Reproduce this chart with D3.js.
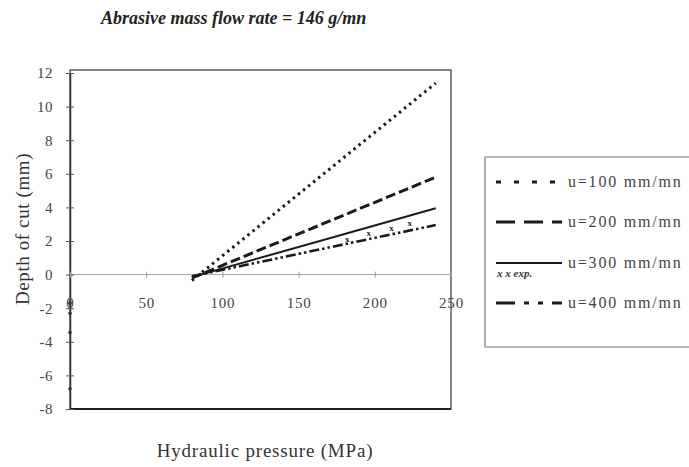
<!DOCTYPE html>
<html>
<head>
<meta charset="utf-8">
<script src="https://cdn.jsdelivr.net/npm/d3@7"></script>
<style>
  body { margin: 0; background: #fff; }
  text { font-family: "Liberation Serif", "Times New Roman", serif; }
</style>
</head>
<body>
<div id="chart"></div>
<script>
// chart data
let pressureEnds = [80, 240];
let seriesNames = ["u=100 mm/mn", "u=200 mm/mn", "u=300 mm/mn", "u=400 mm/mn"];
let depthU100 = [-0.35, 11.4];
let depthU200 = [-0.2, 5.8];
let depthU300 = [-0.15, 3.95];
let depthU400 = [-0.1, 2.95];
// experimental points (x marks)
let expPressure = [182, 196, 211, 223];
let expDepth = [2.1, 2.45, 2.8, 3.05];
// faint remains of the lines at P = 0
let startDepth = [-1.7, -2.3, -3.45, -6.8];
let xTicks = [0, 50, 100, 150, 200, 250];
let yTicks = [-8, -6, -4, -2, 0, 2, 4, 6, 8, 10, 12];

let svgWidth = 689;
let svgHeight = 467;

let margin = { top: 73, right: 238, bottom: 58, left: 70 };
let width = svgWidth - margin.left - margin.right;
let height = svgHeight - margin.top - margin.bottom;

let svg = d3.select("#chart")
  .append("svg")
  .attr("width", svgWidth)
  .attr("height", svgHeight);

let chartGroup = svg.append("g")
  .attr("transform", `translate(${margin.left}, ${margin.top})`);

let x = d3.scaleLinear().domain([0, 250]).range([0, 381]);
let y = d3.scaleLinear().domain([-8, 12]).range([height, 0]);

let ink = "#1a1a1a";
let serif = "'Liberation Serif', 'Times New Roman', serif";

// title
svg.append("text")
  .attr("x", 101)
  .attr("y", 24)
  .attr("font-family", serif)
  .attr("font-size", "18px")
  .attr("font-style", "italic")
  .attr("font-weight", "bold")
  .attr("fill", "#222")
  .text("Abrasive mass flow rate = 146 g/mn");

// plot frame
chartGroup.append("rect")
  .attr("x", 0)
  .attr("y", -3)
  .attr("width", x(250))
  .attr("height", height + 3)
  .attr("fill", "none")
  .attr("stroke", "#444")
  .attr("stroke-width", 1.3);

chartGroup.append("line")
  .attr("x1", 0).attr("x2", x(250))
  .attr("y1", height).attr("y2", height)
  .attr("stroke", "#222")
  .attr("stroke-width", 2);

// zero line
chartGroup.append("line")
  .attr("x1", 0).attr("x2", x(250))
  .attr("y1", y(0)).attr("y2", y(0))
  .attr("stroke", "#a9a4a8")
  .attr("stroke-width", 1);

// y axis with cross ticks, plain hyphen minus like the scan
let leftAxis = d3.axisLeft(y)
  .tickValues(yTicks)
  .tickFormat(d => String(d))
  .tickSize(4)
  .tickSizeOuter(0)
  .tickPadding(13);
let yAxis = chartGroup.append("g").call(leftAxis);
yAxis.attr("font-family", serif);
yAxis.select(".domain").attr("stroke", "#333").attr("stroke-width", 1.5);
yAxis.selectAll(".tick line").attr("x2", 4).attr("x1", -4).attr("stroke", "#555");
yAxis.selectAll(".tick text")
  .attr("font-size", "15px")
  .attr("letter-spacing", "0.5px")
  .attr("fill", "#444");

// x tick labels sit just below the zero line
let bottomAxis = d3.axisBottom(x).tickValues(xTicks).tickSize(3).tickPadding(20);
let xAxis = chartGroup.append("g")
  .attr("transform", `translate(0, ${y(0)})`)
  .call(bottomAxis);
xAxis.attr("font-family", serif);
xAxis.select(".domain").remove();
xAxis.selectAll(".tick line").attr("y1", -3).attr("stroke", "#999");
xAxis.selectAll(".tick text")
  .attr("font-size", "15px")
  .attr("letter-spacing", "0.8px")
  .attr("fill", "#444");

// series
let series = [
  { name: seriesNames[0], depth: depthU100, dash: "2.5,4", width: 3, legendDash: "5,13" },
  { name: seriesNames[1], depth: depthU200, dash: "10,4", width: 3, legendDash: "19,9" },
  { name: seriesNames[2], depth: depthU300, dash: null, width: 2, legendDash: null },
  { name: seriesNames[3], depth: depthU400, dash: "10,3,2.5,3,2.5,3", width: 2.6, legendDash: "19,9,5,9,5,9" }
];

let lineGen = d3.line()
  .x(d => x(d[0]))
  .y(d => y(d[1]));

series.forEach(function(s) {
  chartGroup.append("path")
    .datum(pressureEnds.map((p, i) => [p, s.depth[i]]))
    .attr("d", lineGen)
    .attr("fill", "none")
    .attr("stroke", ink)
    .attr("stroke-width", s.width)
    .attr("stroke-dasharray", s.dash);
});

// experimental marks
chartGroup.selectAll(".exp")
  .data(expPressure)
  .enter()
  .append("text")
  .attr("class", "exp")
  .attr("x", d => x(d))
  .attr("y", (d, i) => y(expDepth[i]) + 3)
  .attr("text-anchor", "middle")
  .attr("font-size", "9px")
  .attr("font-weight", "bold")
  .attr("fill", "#222")
  .text("x");

// faint marks on the y axis
chartGroup.selectAll(".start")
  .data(startDepth)
  .enter()
  .append("circle")
  .attr("cx", x(0))
  .attr("cy", d => y(d))
  .attr("r", 1.8)
  .attr("fill", "#333");

// axis titles
svg.append("text")
  .attr("transform", `translate(29, 229) rotate(-90)`)
  .attr("text-anchor", "middle")
  .attr("font-size", "19px")
  .attr("letter-spacing", "0.6px")
  .attr("fill", "#333")
  .text("Depth of cut (mm)");

svg.append("text")
  .attr("x", 265)
  .attr("y", 457)
  .attr("text-anchor", "middle")
  .attr("font-size", "19px")
  .attr("letter-spacing", "0.8px")
  .attr("fill", "#333")
  .text("Hydraulic pressure (MPa)");

// legend
let legend = svg.append("g");
legend.append("path")
  .attr("d", "M700,157 H485 V347 H700")
  .attr("fill", "none")
  .attr("stroke", "#777")
  .attr("stroke-width", 1.2);

let legendY = [182, 222, 263, 303];
series.forEach(function(s, i) {
  legend.append("line")
    .attr("x1", 496).attr("x2", 562)
    .attr("y1", legendY[i]).attr("y2", legendY[i])
    .attr("stroke", ink)
    .attr("stroke-width", s.width === 2 ? 2 : 3)
    .attr("stroke-dasharray", s.legendDash);
  legend.append("text")
    .attr("x", 568)
    .attr("y", legendY[i] + 5)
    .attr("font-size", "16px")
    .attr("letter-spacing", "1.8px")
    .attr("fill", "#444")
    .text(s.name);
});
legend.append("text")
  .attr("x", 497)
  .attr("y", 277)
  .attr("font-size", "11px")
  .attr("font-style", "italic")
  .attr("font-weight", "bold")
  .attr("fill", "#333")
  .text("x  x  exp.");
</script>
</body>
</html>
